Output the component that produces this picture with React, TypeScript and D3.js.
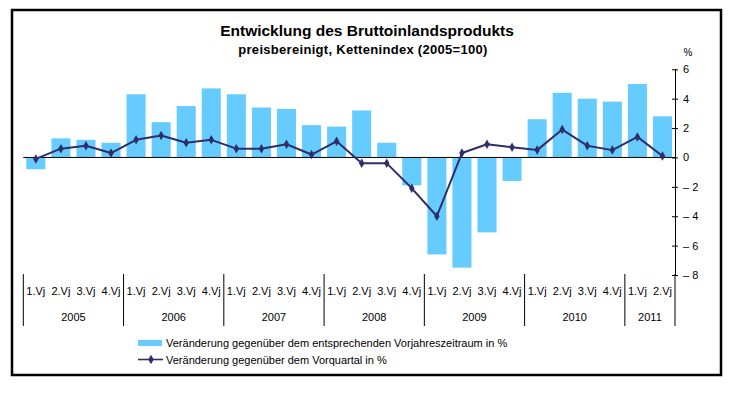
import React from "react";
import * as d3 from "d3";

// Quartale 2005 bis 2. Vj 2011
const years = ["2005", "2006", "2007", "2008", "2009", "2010", "2011"];
const quarterNames = ["1.Vj", "2.Vj", "3.Vj", "4.Vj"];
const quarterCount = [4, 4, 4, 4, 4, 4, 2];

// Veränderung gegenüber dem entsprechenden Vorjahreszeitraum in %
const yoyValues = [
  -0.8, 1.3, 1.2, 1.0,
  4.3, 2.4, 3.5, 4.7,
  4.3, 3.4, 3.3, 2.2,
  2.1, 3.2, 1.0, -1.9,
  -6.6, -7.5, -5.1, -1.6,
  2.6, 4.4, 4.0, 3.8,
  5.0, 2.8,
];

// Veränderung gegenüber dem Vorquartal in %
const qoqValues = [
  -0.1, 0.6, 0.8, 0.3,
  1.2, 1.5, 1.0, 1.2,
  0.6, 0.6, 0.9, 0.2,
  1.1, -0.4, -0.4, -2.1,
  -4.0, 0.3, 0.9, 0.7,
  0.5, 1.9, 0.8, 0.5,
  1.4, 0.1,
];

const yTicks = [6, 4, 2, 0, -2, -4, -6, -8];

const title = "Entwicklung des Bruttoinlandsprodukts";
const subtitle = "preisbereinigt, Kettenindex (2005=100)";
const legendBar = "Veränderung gegenüber dem entsprechenden Vorjahreszeitraum in %";
const legendLine = "Veränderung gegenüber dem Vorquartal in %";

const BAR = "#66ccff";
const LINE = "#2e2e6a";
const FONT = "'Liberation Sans', Arial, sans-serif";

function drawChart(svgRef: React.RefObject<SVGSVGElement | null>) {
  const svg = d3.select(svgRef.current);
  svg.selectAll("*").remove();

  const left = 23.3;
  const right = 675;
  const top = 69.3;
  const bottom = 275;

  const idx = yoyValues.map((_, i) => i);
  const x = d3.scaleBand<number>().domain(idx).range([left, right]).paddingInner(0.24).paddingOuter(0.12);
  const y = d3.scaleLinear().domain([-8, 6]).range([bottom, top]);

  // Rahmen
  svg.append("rect")
    .attr("x", 12).attr("y", 10).attr("width", 709).attr("height", 365)
    .attr("fill", "white").attr("stroke", "black").attr("stroke-width", 2.5);

  // Titel
  svg.append("text")
    .attr("x", 367).attr("y", 35.5)
    .attr("text-anchor", "middle")
    .attr("font-family", FONT).attr("font-size", 15.5).attr("font-weight", "bold")
    .text(title);
  svg.append("text")
    .attr("x", 363).attr("y", 53.5)
    .attr("text-anchor", "middle")
    .attr("font-family", FONT).attr("font-size", 13).attr("font-weight", "bold")
    .attr("letter-spacing", 0.3)
    .text(subtitle);

  // Balken
  svg.append("g")
    .selectAll("rect")
    .data(yoyValues)
    .join("rect")
    .attr("x", (_, i) => x(i)!)
    .attr("width", x.bandwidth())
    .attr("y", d => y(Math.max(0, d)))
    .attr("height", d => Math.abs(y(d) - y(0)))
    .attr("fill", BAR);

  // Nulllinie
  svg.append("line")
    .attr("x1", left).attr("x2", right)
    .attr("y1", y(0)).attr("y2", y(0))
    .attr("stroke", "black").attr("stroke-width", 1);

  // Linie
  const cx = (i: number) => x(i)! + x.bandwidth() / 2;
  const line = d3.line<number>().x((_, i) => cx(i)).y(d => y(d));
  svg.append("path")
    .datum(qoqValues)
    .attr("fill", "none")
    .attr("stroke", LINE)
    .attr("stroke-width", 2)
    .attr("stroke-linejoin", "round")
    .attr("d", line);

  const diamond = d3.symbol().type(d3.symbolDiamond).size(26);
  svg.append("g")
    .selectAll("path")
    .data(qoqValues)
    .join("path")
    .attr("transform", (d, i) => `translate(${cx(i)},${y(d)})`)
    .attr("d", diamond)
    .attr("fill", LINE);

  // rechte Achse
  const axis = svg.append("g")
    .attr("transform", `translate(${right},0)`)
    .call(
      d3.axisRight(y)
        .tickValues(yTicks)
        .tickSize(3)
        .tickFormat(d => (+d < 0 ? `– ${Math.abs(+d)}` : `${d}`))
    );
  axis.select(".domain").attr("d", `M0.5,${bottom}V${top}`).attr("stroke", "black");
  axis.selectAll(".tick line").attr("x1", -3).attr("x2", 3).attr("stroke", "black");
  axis.selectAll(".tick text")
    .attr("x", 8)
    .attr("font-family", FONT).attr("font-size", 11)
    .attr("fill", "black");

  svg.append("text")
    .attr("x", 688).attr("y", 56)
    .attr("text-anchor", "middle")
    .attr("font-family", FONT).attr("font-size", 10)
    .text("%");

  // Kategorieachse
  const cat = svg.append("g");
  const edge = (b: number) =>
    b === 0 ? left : b >= yoyValues.length ? right : x(b)! - x.step() * x.paddingInner() / 2;
  let start = 0;
  const bounds: number[] = [0];
  years.forEach((yr, yi) => {
    const n = quarterCount[yi];
    for (let q = 0; q < n; q++) {
      cat.append("text")
        .attr("x", cx(start + q))
        .attr("y", 295)
        .attr("text-anchor", "middle")
        .attr("font-family", FONT).attr("font-size", 11)
        .text(quarterNames[q]);
    }
    const end = start + n;
    cat.append("text")
      .attr("x", (edge(start) + edge(end)) / 2)
      .attr("y", 321)
      .attr("text-anchor", "middle")
      .attr("font-family", FONT).attr("font-size", 11)
      .text(yr);
    bounds.push(end);
    start = end;
  });
  bounds.forEach(b => {
    const bx = edge(b);
    cat.append("line")
      .attr("x1", bx).attr("x2", bx)
      .attr("y1", 274).attr("y2", 326)
      .attr("stroke", "black").attr("stroke-width", 1);
  });

  // Legende
  svg.append("rect")
    .attr("x", 138).attr("y", 340).attr("width", 24).attr("height", 6)
    .attr("fill", BAR);
  svg.append("text")
    .attr("x", 166).attr("y", 347)
    .attr("font-family", FONT).attr("font-size", 11)
    .text(legendBar);
  svg.append("line")
    .attr("x1", 138).attr("x2", 163).attr("y1", 359.5).attr("y2", 359.5)
    .attr("stroke", LINE).attr("stroke-width", 1.6);
  svg.append("path")
    .attr("transform", "translate(151,359.5)")
    .attr("d", diamond)
    .attr("fill", LINE);
  svg.append("text")
    .attr("x", 166).attr("y", 364)
    .attr("font-family", FONT).attr("font-size", 11)
    .text(legendLine);
}

export default function App() {
  const svg = React.useRef<SVGSVGElement>(null);

  React.useEffect(() => {
    drawChart(svg);
  }, []);

  return (
    <div style={{ position: "absolute", left: 0, top: 0 }}>
      <svg ref={svg} width={746} height={394} style={{ display: "block", background: "white" }} />
    </div>
  );
}
